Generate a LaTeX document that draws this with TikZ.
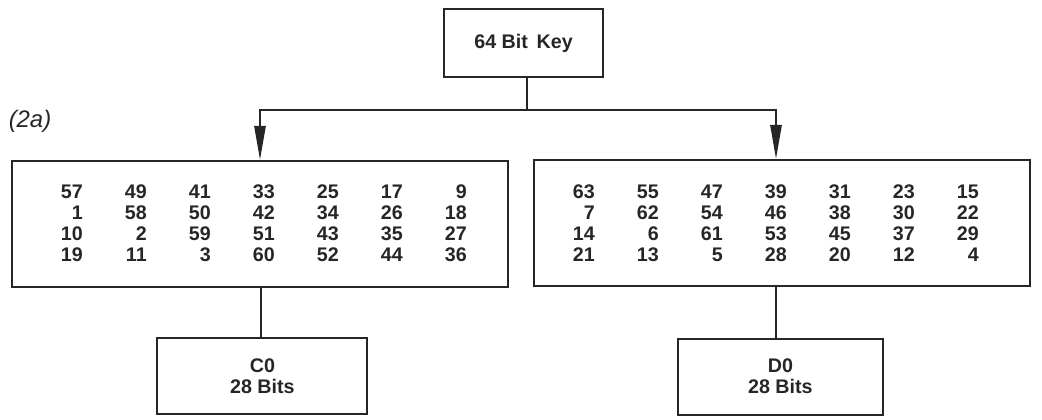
\documentclass[tikz,border=0pt]{standalone}
\usepackage{fontspec}
\setmainfont{Liberation Sans}
\usetikzlibrary{arrows.meta,positioning}

\begin{document}
\begin{tikzpicture}[
  font=\fontsize{14}{14.9}\selectfont\bfseries,
  text=black!85,
  box/.style={
    rectangle, draw=black!85, line width=1.5pt,
    align=center, inner sep=0pt
  },
  keybox/.style={box, minimum width=3.975cm, minimum height=1.7cm},
  pctable/.style={box, minimum width=12.4cm, minimum height=3.15cm},
  half/.style={box, minimum width=5.25cm, minimum height=1.9cm},
  num/.style={anchor=east, inner sep=0pt, text height=10pt, text depth=0pt},
  link/.style={draw=black!85, line width=1.5pt},
  feed/.style={link, -{Triangle[length=8.5mm, width=2.8mm]}},
]
\useasboundingbox (0,0) rectangle (26.05,10.475);

% Key on top
\node[keybox] (key) at (13.09, 9.4) {64 Bit\ \,Key};

% Figure tag
\node[font=\fontsize{17}{18}\selectfont\mdseries\itshape] (tag) at (0.75, 7.45) {(2a)};

% Two halves of the permuted key
\node[pctable] (ltab) at (6.5, 4.875) {};
\node[pctable] (rtab) at (19.54, 4.9) {};

% Left entries
\foreach \row [count=\i] in {{57,49,41,33,25,17,9},{1,58,50,42,34,26,18},
                            {10,2,59,51,43,35,27},{19,11,3,60,52,44,36}}
  \foreach \n [count=\j] in \row
    \node[num] (l-\i-\j) at ({2.075+(\j-1)*1.6}, {5.7-(\i-1)*0.53}) {\n};

% Right entries
\foreach \row [count=\i] in {{63,55,47,39,31,23,15},{7,62,54,46,38,30,22},
                            {14,6,61,53,45,37,29},{21,13,5,28,20,12,4}}
  \foreach \n [count=\j] in \row
    \node[num] (r-\i-\j) at ({14.875+(\j-1)*1.6}, {5.7-(\i-1)*0.53}) {\n};

% Outputs
\node[half] (c0) at (6.56, 1.075) {C0\\28 Bits};
\node[half, minimum width=5.125cm] (d0) at (19.51, 1.06) {D0\\28 Bits};

% Connectors
\coordinate (split) at (13.17, 7.725);
\coordinate (rdrop) at (19.4, 7.725);
\draw[link] (key.south -| split) -- (split);
\draw[feed] (split) -| (ltab.north);
\draw[feed] (split) -- (rdrop) -- (rdrop |- rtab.north);
\draw[link] (ltab.south) ++(0.025,0) coordinate (lstem) -- (lstem |- c0.north);
\draw[link] (rdrop |- rtab.south) -- (rdrop |- d0.north);

\end{tikzpicture}
\end{document}
